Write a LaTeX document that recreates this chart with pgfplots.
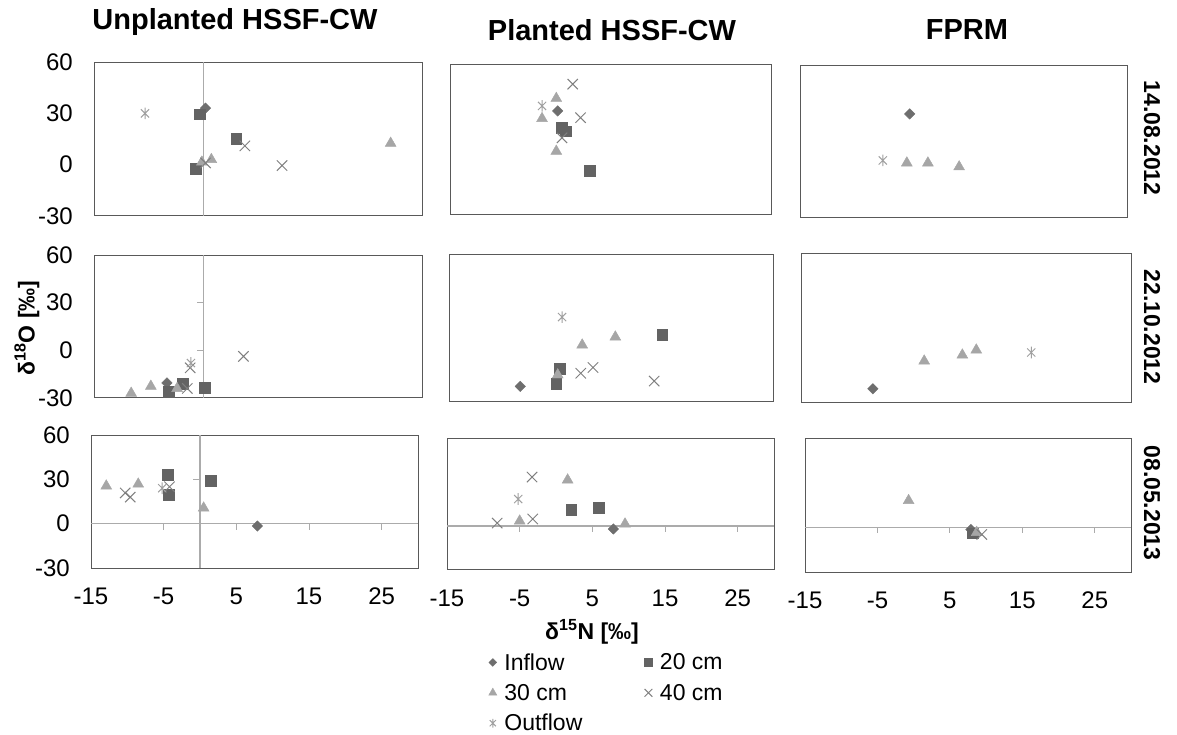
\documentclass[border=0pt]{standalone}
\usepackage{fontspec}
\setmainfont{Liberation Sans}
\usepackage{pgfplots}
\pgfplotsset{compat=1.18}
\usetikzlibrary{plotmarks}

\definecolor{framegray}{HTML}{595959}
\definecolor{linegray}{HTML}{ABABAB}
\definecolor{cIn}{HTML}{6E6E6E}
\definecolor{cTwenty}{HTML}{636363}
\definecolor{cThirty}{HTML}{A6A6A6}
\definecolor{cForty}{HTML}{7F7F7F}
\definecolor{cOut}{HTML}{A0A0A0}

\pgfdeclareplotmark{xstar}{%
  \pgfsetbuttcap
  \pgfpathmoveto{\pgfqpoint{0pt}{-\pgfplotmarksize}}%
  \pgfpathlineto{\pgfqpoint{0pt}{\pgfplotmarksize}}%
  \pgfpathmoveto{\pgfqpoint{-.7071\pgfplotmarksize}{-.7071\pgfplotmarksize}}%
  \pgfpathlineto{\pgfqpoint{.7071\pgfplotmarksize}{.7071\pgfplotmarksize}}%
  \pgfpathmoveto{\pgfqpoint{-.7071\pgfplotmarksize}{.7071\pgfplotmarksize}}%
  \pgfpathlineto{\pgfqpoint{.7071\pgfplotmarksize}{-.7071\pgfplotmarksize}}%
  \pgfusepathqstroke}

\newcommand{\fsz}{\fontsize{24}{28}\selectfont}
\newcommand{\lsz}{\fontsize{23}{27}\selectfont}

\pgfplotsset{
  panel/.style={
    scale only axis, anchor=north west, clip=false,
    xmin=-15, xmax=30, ymin=-30, ymax=60,
    axis line style={draw=framegray, line width=1pt},
    xtick=\empty, ytick=\empty,
    major tick length=0pt,
    tick label style={font=\fsz, text=black},
  },
  ylab/.style={ytick={-30,0,30,60}, yticklabels={-30,0,30,60},
    yticklabel style={anchor=east, inner sep=0pt, xshift=-21pt}},
  xlab/.style={xtick={-15,-5,5,15,25}, xticklabels={-15,-5,5,15,25},
    xticklabel style={anchor=north, inner sep=0pt, yshift=-20pt}},
  inflow/.style={only marks, mark=square*, mark size=3.7pt,
    mark options={rotate=45, fill=cIn, draw=cIn}},
  twenty/.style={only marks, mark=square*, mark size=5.4pt,
    mark options={fill=cTwenty, draw=cTwenty}},
  thirty/.style={only marks, mark=triangle*, mark size=6.3pt,
    mark options={fill=cThirty, draw=cThirty}},
  forty/.style={only marks, mark=x, mark size=7.3pt,
    mark options={draw=cForty, line width=1pt}},
  outflow/.style={only marks, mark=xstar, mark size=5.8pt,
    mark options={draw=cOut, line width=1pt}},
}

\begin{document}
\begin{tikzpicture}
\useasboundingbox (0,0) rectangle (1177pt,-734pt);

% ---------------- Row 1 ----------------
\begin{axis}[panel, ylab, at={(94pt,-62pt)}, width=328pt, height=154pt]
\draw[linegray, line width=1.3pt] (axis cs:0,-30) -- (axis cs:0,60);
\addplot[inflow] coordinates {(0.3,33)};
\addplot[twenty] coordinates {(-0.5,29.5) (4.5,15) (-1.1,-2.5)};
\addplot[thirty] coordinates {(25.7,12.5) (-0.2,1.5) (1.1,3)};
\addplot[forty] coordinates {(5.7,11) (10.8,-0.5) (0.3,1)};
\addplot[outflow] coordinates {(-8,30)};
\end{axis}

\begin{axis}[panel, at={(450pt,-64pt)}, width=321pt, height=151pt]
\addplot[inflow] coordinates {(0.1,32)};
\addplot[twenty] coordinates {(0.7,22) (1.2,20) (4.6,-3.5)};
\addplot[thirty] coordinates {(-0.1,39.5) (-2.1,27.5) (-0.1,8)};
\addplot[forty] coordinates {(2.2,48) (3.3,28) (0.7,16)};
\addplot[outflow] coordinates {(-2.1,35)};
\end{axis}

\begin{axis}[panel, at={(800pt,-65pt)}, width=327pt, height=152pt]
\addplot[inflow] coordinates {(0.1,31)};
\addplot[thirty] coordinates {(-0.3,2) (2.6,2) (6.9,-0.3)};
\addplot[outflow] coordinates {(-3.6,3.5)};
\end{axis}

% ---------------- Row 2 ----------------
\begin{axis}[panel, ylab, at={(94pt,-255pt)}, width=328pt, height=143pt]
\draw[linegray, line width=1.3pt] (axis cs:0,-30) -- (axis cs:0,60);
\draw[linegray, line width=1pt] (axis cs:0,30) -- ++(-6pt,0pt);
\draw[linegray, line width=1pt] (axis cs:0,0) -- ++(-6pt,0pt);
\addplot[inflow] coordinates {(-5,-20.5)};
\addplot[twenty] coordinates {(-4.8,-26) (-2.8,-21) (0.2,-23.5)};
\addplot[thirty] coordinates {(-9.9,-27) (-7.2,-22.6) (-3.6,-24)};
\addplot[forty] coordinates {(-2.2,-24) (-1.8,-11) (5.5,-3.8)};
\addplot[outflow] coordinates {(-1.7,-8)};
\end{axis}

\begin{axis}[panel, at={(449pt,-254pt)}, width=324pt, height=147pt]
\addplot[inflow] coordinates {(-5.1,-21)};
\addplot[twenty] coordinates {(14.6,10.4) (0.4,-10) (-0.1,-19.5)};
\addplot[thirty] coordinates {(8.1,9.2) (3.5,4.3) (0.1,-14)};
\addplot[forty] coordinates {(3.3,-13) (5.0,-9.5) (13.5,-17.8)};
\addplot[outflow] coordinates {(0.7,21.4)};
\end{axis}

\begin{axis}[panel, at={(801pt,-253pt)}, width=330pt, height=150pt]
\addplot[inflow] coordinates {(-5.2,-21.5)};
\addplot[thirty] coordinates {(1.8,-4.8) (7.0,-1.2) (8.9,1.8)};
\addplot[outflow] coordinates {(16.4,0.3)};
\end{axis}

% ---------------- Row 3 ----------------
\begin{axis}[panel, ylab, xlab, at={(91pt,-435pt)}, width=327pt, height=133pt]
\draw[linegray, line width=1.3pt] (axis cs:0,-30) -- (axis cs:0,60);
\draw[linegray, line width=1.3pt] (axis cs:-15,0) -- (axis cs:30,0);
\pgfplotsinvokeforeach{-5,5,15,25}{\draw[linegray, line width=1pt] (axis cs:#1,0) -- ++(0pt,-6pt);}
\draw[linegray, line width=1pt] (axis cs:0,30) -- ++(-7pt,0pt);
\addplot[inflow] coordinates {(7.9,-1.6)};
\addplot[twenty] coordinates {(-4.4,33) (-4.3,19.5) (1.5,29)};
\addplot[thirty] coordinates {(-12.9,25.5) (-8.5,26.8) (0.5,10.6)};
\addplot[forty] coordinates {(-10.3,20.8) (-9.6,18) (-4.2,25)};
\addplot[outflow] coordinates {(-5.2,24)};
\end{axis}

\begin{axis}[panel, xlab, at={(447pt,-438pt)}, width=327pt, height=132pt,
  legend columns=2, legend cell align=left,
  legend image post style={every mark/.append style={scale=0.75}},
  legend style={at={(0.127,-0.615)}, anchor=north west, draw=none, fill=none,
    inner sep=0pt, font=\lsz, row sep=8.5pt,
    /tikz/every odd column/.append style={column sep=5.5pt},
    /tikz/every even column/.append style={column sep=60pt}}]
\draw[linegray, line width=1.3pt] (axis cs:-15,0) -- (axis cs:30,0);
\pgfplotsinvokeforeach{-5,5,15,25}{\draw[linegray, line width=1pt] (axis cs:#1,0) -- ++(0pt,-6pt);}
\addplot[inflow] coordinates {(7.9,-2)};
\addlegendentry{Inflow}
\addplot[twenty] coordinates {(2.1,10.9) (5.9,12.3)};
\addlegendentry{20 cm}
\addplot[thirty] coordinates {(1.6,31.4) (-5.0,3.4) (9.5,1.4)};
\addlegendentry{30 cm}
\addplot[forty] coordinates {(-3.3,33.4) (-8.1,2) (-3.2,4.8)};
\addlegendentry{40 cm}
\addplot[outflow] coordinates {(-5.2,18.4)};
\addlegendentry{Outflow}
\end{axis}

\begin{axis}[panel, xlab, at={(805pt,-438pt)}, width=326pt, height=134pt]
\draw[linegray, line width=1.3pt] (axis cs:-15,0) -- (axis cs:30,0);
\pgfplotsinvokeforeach{-5,5,15,25}{\draw[linegray, line width=1pt] (axis cs:#1,0) -- ++(0pt,-6pt);}
\addplot[inflow] coordinates {(7.9,-1.5)};
\addplot[twenty] coordinates {(8.1,-4)};
\addplot[thirty] coordinates {(-0.7,18) (8.7,-3.4)};
\addplot[forty] coordinates {(9.4,-4.8)};
\end{axis}

% ---------------- Titles and labels ----------------
\node[font=\bfseries\fontsize{29}{32}\selectfont] at (235pt,-22pt) {Unplanted HSSF-CW};
\node[font=\bfseries\fontsize{29}{32}\selectfont] at (612pt,-30pt) {Planted HSSF-CW};
\node[font=\bfseries\fontsize{29}{32}\selectfont] at (967pt,-30pt) {FPRM};
\node[rotate=-90, font=\bfseries\fontsize{23}{26}\selectfont] at (1152pt,-138pt) {14.08.2012};
\node[rotate=-90, font=\bfseries\fontsize{23}{26}\selectfont] at (1152pt,-327pt) {22.10.2012};
\node[rotate=-90, font=\bfseries\fontsize{23}{26}\selectfont] at (1152pt,-503pt) {08.05.2013};
\node[rotate=90, font=\bfseries\fontsize{23}{26}\selectfont] at (27pt,-328pt) {δ\textsuperscript{18}O [‰]};
\node[font=\bfseries\fontsize{23}{26}\selectfont] at (592pt,-632pt) {δ\textsuperscript{15}N [‰]};
\end{tikzpicture}
\end{document}
